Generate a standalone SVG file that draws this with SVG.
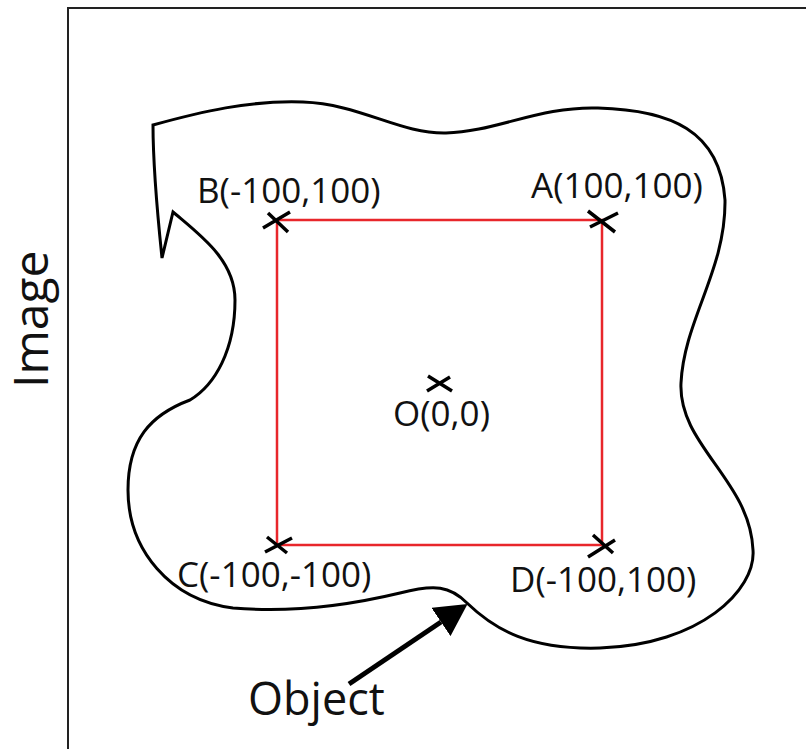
<svg xmlns="http://www.w3.org/2000/svg" width="806" height="749" viewBox="0 0 806 749">
<style>
.lbl{font-family:"Open Sans","Noto Sans","Liberation Sans",sans-serif;fill:#111;}
.pt{font-size:35px;}
.x{stroke:#000;stroke-width:3.5;fill:none;}
.red{stroke:#e8262b;stroke-width:2.5;fill:none;}
</style>
<defs>
<marker id="ah" markerUnits="userSpaceOnUse" viewBox="0 0 32 34" refX="0" refY="17" markerWidth="32" markerHeight="34" orient="auto">
<path d="M0,0 L32,17 L0,34 Z" fill="#000"/>
</marker>
</defs>
<rect width="806" height="749" fill="#fff"/>
<g id="frame">
<path d="M68,749 V8 H806" fill="none" stroke="#222" stroke-width="2"/>
<text class="lbl" transform="translate(48,388) rotate(-90)" font-size="48">Image</text>
</g>
<g id="object">
<path d="M153,125 C200,112 250,100 303,102 C360,104 400,134 446,133 C495,132 540,106 598,108 C670,110 720,130 725,200 C726,270 684,320 681,383 C678,445 750,480 753,550 C756,590 700,645 600,648 C530,650 495,630 467,603 C450,586 435,584 400,593 C350,605 290,613 233,608 C170,600 128,550 128,490 C128,440 150,415 190,400 C215,385 235,350 235,300 C235,260 200,235 173,212 L162,258 C157,210 153,165 153,125 Z" fill="none" stroke="#000" stroke-width="3"/>
<text class="lbl" x="248" y="715" font-size="45">Object</text>
</g>
<g id="square">
<rect class="red" x="277" y="220" width="325" height="325"/>
</g>
<g id="A">
<path class="x" d="M590,227 L618,213 M588,211 L615,232"/>
<text class="lbl pt" x="531" y="198">A(100,100)</text>
</g>
<g id="B">
<path class="x" d="M263,228 L290,212 M268,213 L288,232"/>
<text class="lbl pt" x="197" y="203">B(-100,100)</text>
</g>
<g id="C">
<path class="x" d="M265,552 L292,538 M267,537 L287,553"/>
<text class="lbl pt" x="177" y="587">C(-100,-100)</text>
</g>
<g id="D">
<path class="x" d="M588,557 L615,540 M593,535 L613,553"/>
<text class="lbl pt" x="510" y="592">D(-100,100)</text>
</g>
<g id="O">
<path class="x" d="M427,391 L450,377 M428,376 L452,391"/>
<text class="lbl pt" x="393" y="426">O(0,0)</text>
</g>
<g id="connectors">
<line x1="349" y1="684" x2="441" y2="622" stroke="#000" stroke-width="5" marker-end="url(#ah)"/>
</g>
</svg>
